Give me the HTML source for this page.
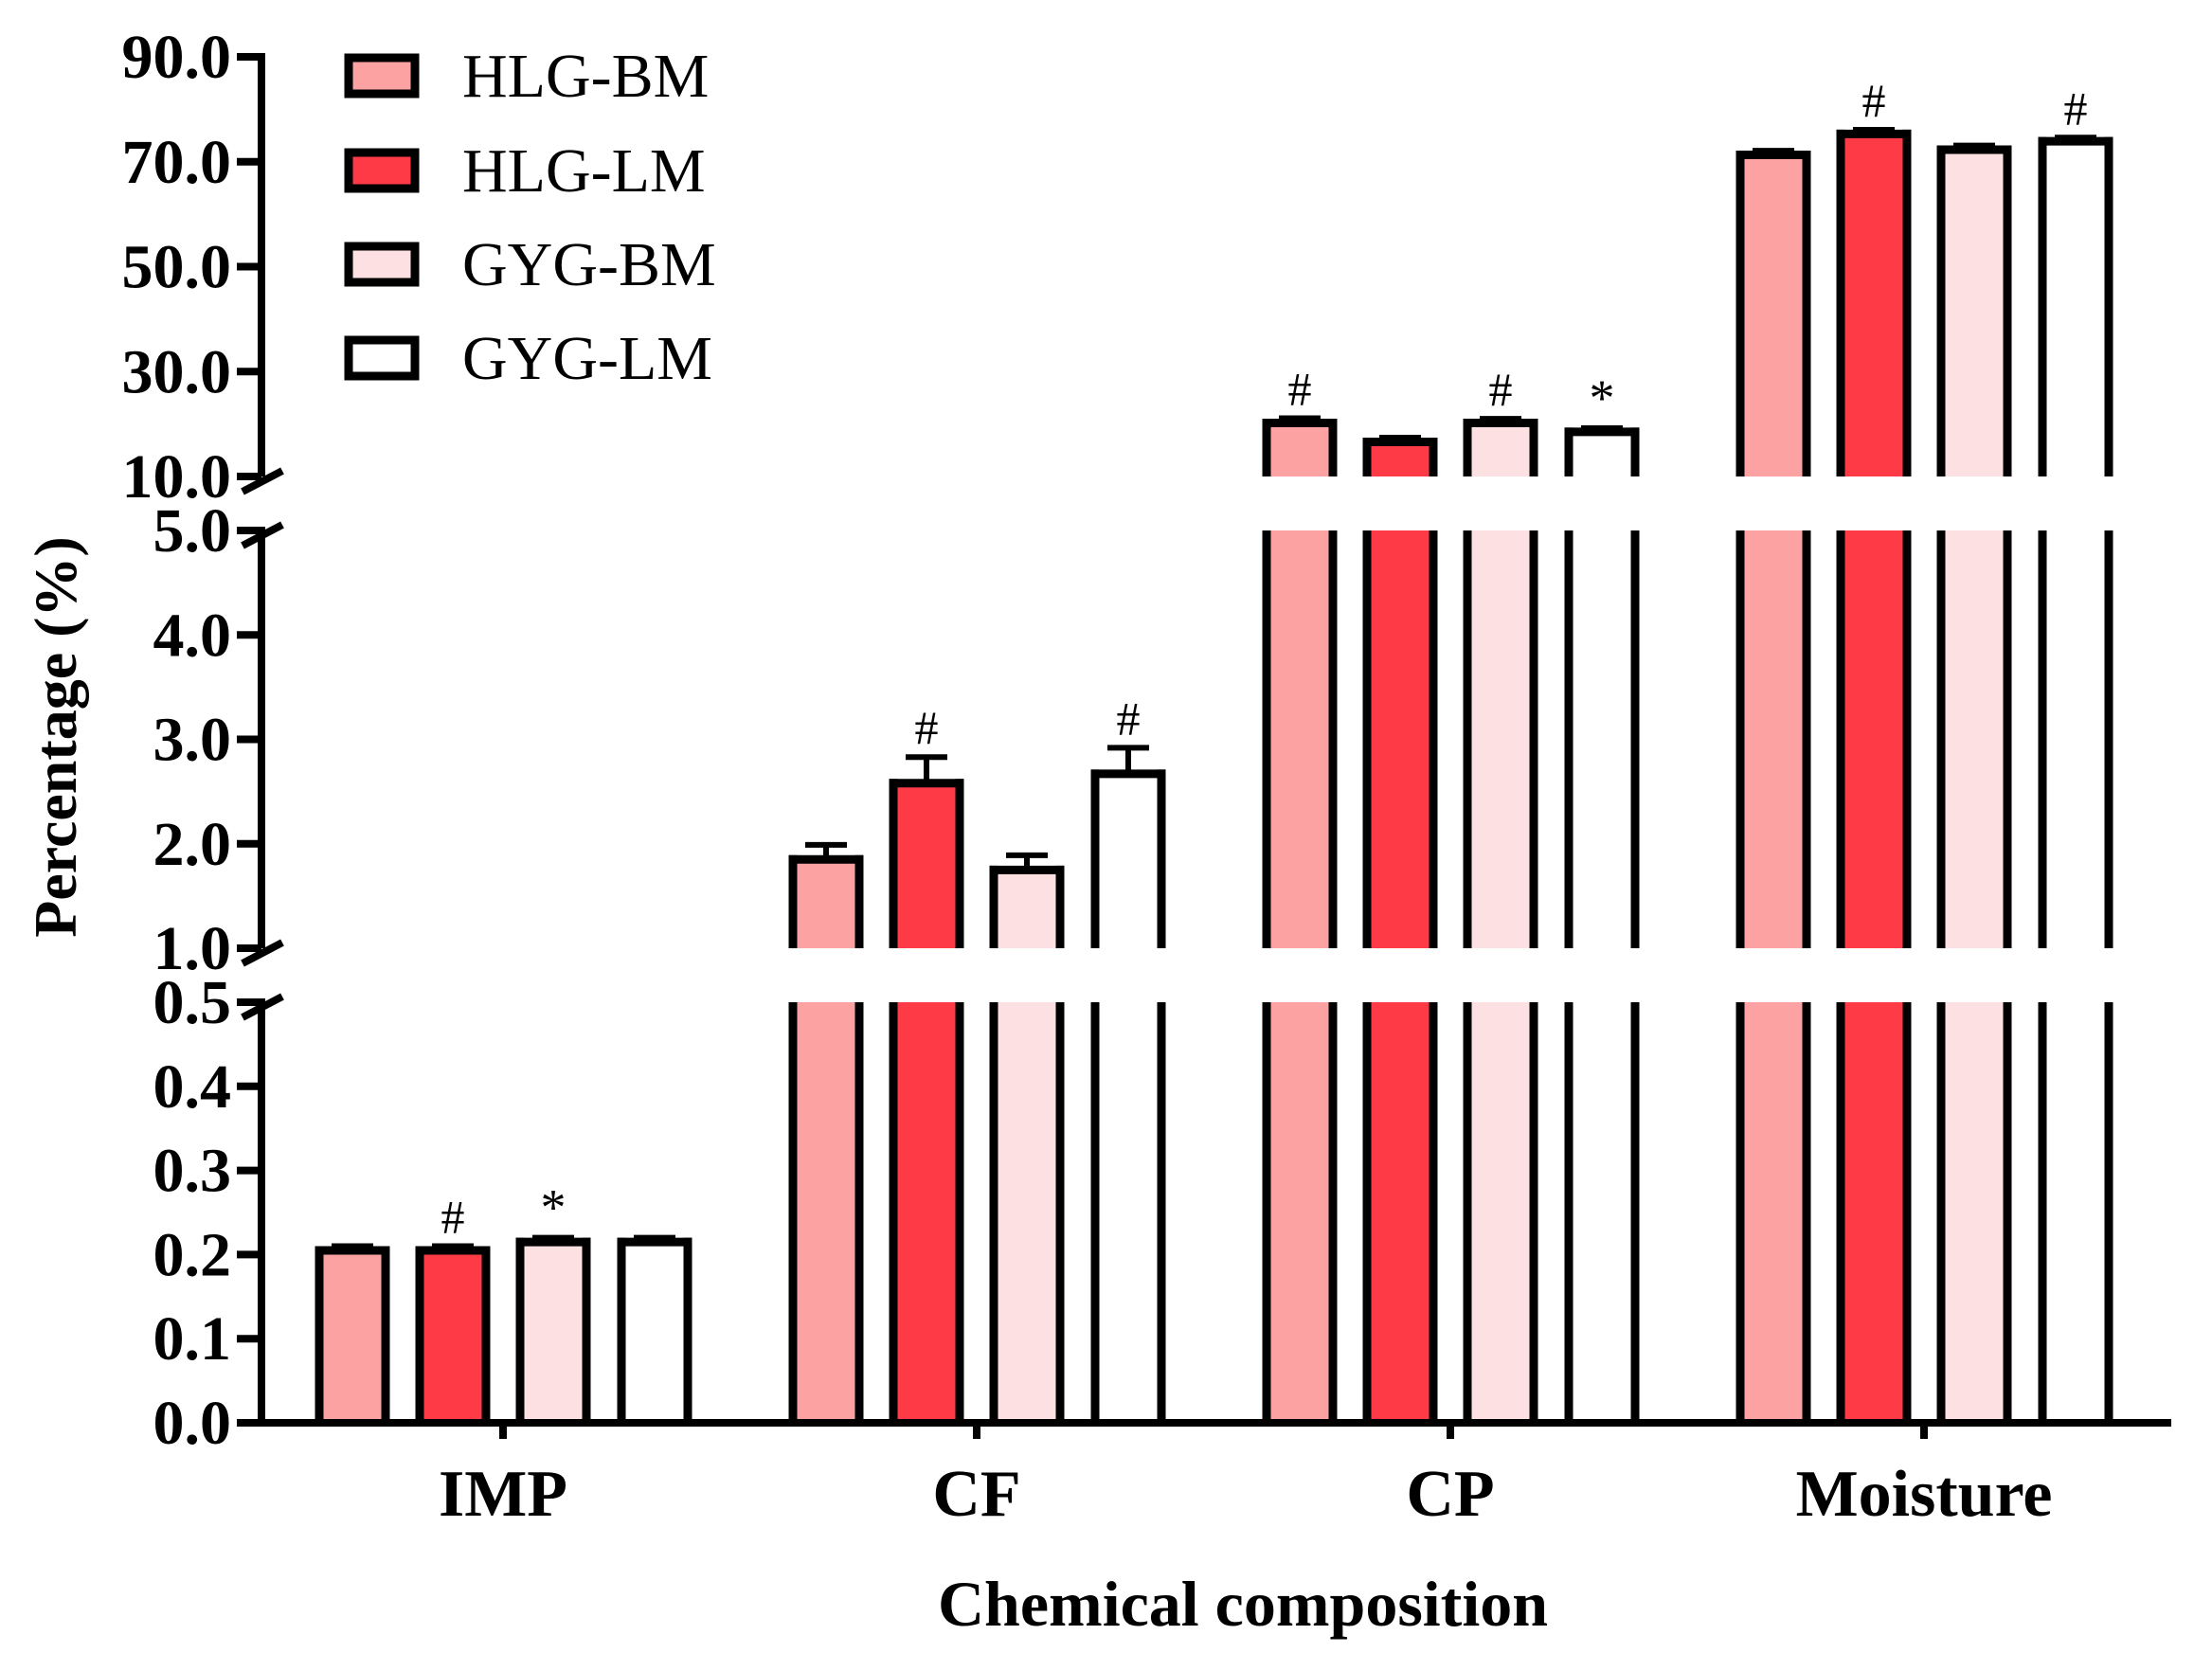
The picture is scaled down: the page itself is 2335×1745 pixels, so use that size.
<!DOCTYPE html>
<html><head><meta charset="utf-8"><style>html,body{margin:0;padding:0;background:#fff}svg{display:block}</style></head>
<body>
<svg id="chart" width="2335" height="1745" viewBox="0 0 2335 1745" xmlns="http://www.w3.org/2000/svg" font-family="'Liberation Serif', serif"></svg>
<script>
const categories = ["IMP","CF","CP","Moisture"];
const seriesNames = ["HLG-BM","HLG-LM","GYG-BM","GYG-LM"];
const seriesColors = ["#fca2a3","#fd3a45","#fde1e2","#ffffff"];
const valHLGBM = [0.205, 1.85, 20.2, 71.3];
const valHLGLM = [0.205, 2.58, 16.6, 75.3];
const valGYGBM = [0.215, 1.75, 20.2, 72.3];
const valGYGLM = [0.215, 2.67, 18.5, 73.9];
const errHLGBM = [0.005, 0.14, 0.9, 0.8];
const errHLGLM = [0.005, 0.25, 0.8, 0.8];
const errGYGBM = [0.005, 0.14, 0.8, 0.8];
const errGYGLM = [0.005, 0.25, 0.7, 0.7];
const marksHLGBM = ["", "", "#", ""];
const marksHLGLM = ["#", "#", "", "#"];
const marksGYGBM = ["*", "", "#", ""];
const marksGYGLM = ["", "#", "*", "#"];
const ticksTop = [10,30,50,70,90];
const ticksMid = [1,2,3,4,5];
const ticksBot = [0,0.1,0.2,0.3,0.4,0.5];

const values=[valHLGBM,valHLGLM,valGYGBM,valGYGLM];
const errs=[errHLGBM,errHLGLM,errGYGBM,errGYGLM];
const marks=[marksHLGBM,marksHLGLM,marksGYGBM,marksGYGLM];
const segs=[{lo:0,hi:0.5,y0:1502,y1:1058},{lo:1,hi:5,y0:1001,y1:560},{lo:10,hi:90,y0:503,y1:60}];
const NS="http://www.w3.org/2000/svg";
const svg=document.getElementById('chart');
function el(t,a,p){const e=document.createElementNS(NS,t);for(const k in a)e.setAttribute(k,a[k]);(p||svg).appendChild(e);return e;}
function segOf(v){for(const s of segs){if(v<=s.hi+1e-9)return s;}return segs[2];}
function y(v){const s=segOf(v);return s.y0+(v-s.lo)/(s.hi-s.lo)*(s.y1-s.y0);}
function xg(i){return 531+i*500;}
const off=[-159,-53,53,160], BW=70, SW=9;
for(let c=0;c<categories.length;c++){
  for(let s=0;s<4;s++){
    const v=values[s][c], xc=xg(c)+off[s], xl=xc-BW/2, xr=xc+BW/2;
    const g=el('g',{});
    
    
    for(const sg of segs){
      if(v<=sg.lo)continue;
      const top=v>=sg.hi?sg.y1:y(v);
      el('rect',{x:xl,y:top,width:BW,height:sg.y0-top,fill:seriesColors[s]},g);
      el('line',{x1:xl,y1:sg.y0,x2:xl,y2:top-(v<sg.hi?SW/2:0),stroke:'#000','stroke-width':SW},g);
      el('line',{x1:xr,y1:sg.y0,x2:xr,y2:top-(v<sg.hi?SW/2:0),stroke:'#000','stroke-width':SW},g);
      if(v<sg.hi){
        el('line',{x1:xl-SW/2,y1:top,x2:xr+SW/2,y2:top,stroke:'#000','stroke-width':SW},g);
        const ye=y(v+errs[s][c]);
        el('line',{x1:xc,y1:top,x2:xc,y2:ye,stroke:'#000','stroke-width':6},g);
        el('line',{x1:xc-22,y1:ye,x2:xc+22,y2:ye,stroke:'#000','stroke-width':6},g);
        if(marks[s][c]){
          const m=el('text',{x:xc,y:ye-14,'text-anchor':'middle','font-size':marks[s][c]=='#'?50:54},g);
          
          
          m.textContent=marks[s][c];
        }
      }
    }
  }
}
const xa=el('line',{x1:272,y1:1502,x2:2292,y2:1502,stroke:'#000','stroke-width':8});

categories.forEach((c,i)=>{
  el('line',{x1:xg(i),y1:1502,x2:xg(i),y2:1519,stroke:'#000','stroke-width':8});
  const t=el('text',{x:xg(i),y:1600,'text-anchor':'middle','font-size':70,'font-weight':'bold'});
  
  t.textContent=c;
});
const ya=el('g',{});

for(const sg of segs) el('line',{x1:276,y1:sg.y0+(sg.lo==0?4:0),x2:276,y2:sg.y1-4,stroke:'#000','stroke-width':8},ya);
[[503,560],[1001,1058]].forEach(([a,b])=>{
  el('line',{x1:256,y1:a+16,x2:298,y2:a-6,stroke:'#000','stroke-width':8},ya);
  el('line',{x1:256,y1:b+16,x2:298,y2:b-6,stroke:'#000','stroke-width':8},ya);
});
function ticks(arr){arr.forEach(v=>{
  el('line',{x1:250,y1:y(v),x2:276,y2:y(v),stroke:'#000','stroke-width':8},ya);
  const t=el('text',{x:244,y:y(v)+22,'text-anchor':'end','font-size':66,'font-weight':'bold'});
  
  t.textContent=v.toFixed(1);
});}
ticks(ticksBot);ticks(ticksMid);ticks(ticksTop);
const yt=el('text',{x:0,y:0,transform:'translate(80,778) rotate(-90)','text-anchor':'middle','font-size':64,'font-weight':'bold'});
yt.textContent='Percentage (%)';
const xt=el('text',{x:1312,y:1716,'text-anchor':'middle','font-size':68,'font-weight':'bold'});
xt.textContent='Chemical composition';
const ly=[80,180,279,378];
seriesNames.forEach((n,i)=>{
  const g=el('g',{});
  
  el('rect',{x:368,y:ly[i]-19,width:70,height:38,fill:seriesColors[i],stroke:'#000','stroke-width':9},g);
  const t=el('text',{x:488,y:ly[i]+22,'font-size':66},g);t.textContent=n;
});
</script>
</body></html>
